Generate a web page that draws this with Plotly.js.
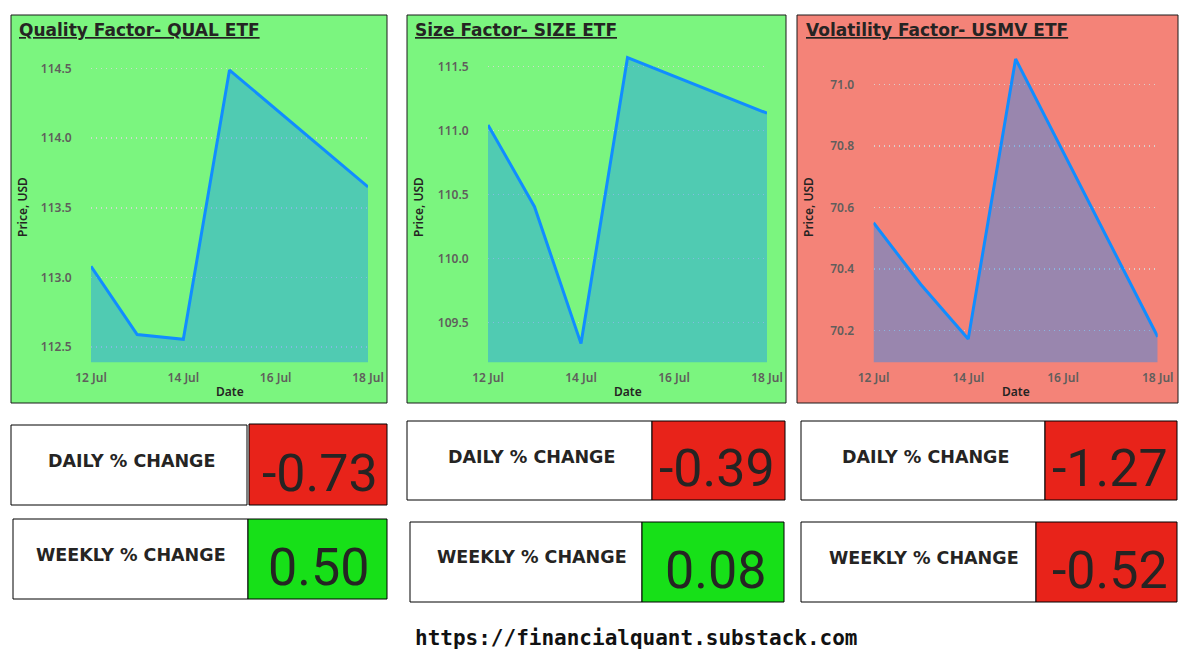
<!DOCTYPE html>
<html>
<head>
<meta charset="utf-8">
<script src="https://cdn.plot.ly/plotly-3.0.1.min.js"></script>
<style>
  html, body { margin: 0; padding: 0; background: #ffffff; }
  #chart { width: 1191px; height: 661px; }
</style>
</head>
<body>
<div id="chart"></div>
<script>
// ---------------- DATA ----------------
const dates = ['2022-07-12', '2022-07-13', '2022-07-14', '2022-07-15', '2022-07-18'];
const qualPrices = [113.08, 112.59, 112.555, 114.49, 113.65];
const sizePrices = [111.045, 110.406, 109.336, 111.57, 111.136];
const usmvPrices = [70.551, 70.35, 70.173, 71.084, 70.18];
const etfTitles = ['Quality Factor- QUAL ETF', 'Size Factor- SIZE ETF', 'Volatility Factor- USMV ETF'];
const dailyChange = [-0.73, -0.39, -1.27];
const weeklyChange = [0.50, 0.08, -0.52];
const dailyLabel = 'DAILY % CHANGE';
const weeklyLabel = 'WEEKLY % CHANGE';
const yAxisTitle = 'Price, USD';
const xAxisTitle = 'Date';
const footerUrl = 'https://financialquant.substack.com';

// ---------------- LAYOUT HELPERS ----------------
const W = 1191, H = 661;
const fx = p => p / W;
const fy = p => 1 - p / H;

const priceSeries = [qualPrices, sizePrices, usmvPrices];
const plotX = [[91, 368], [488, 767], [873.5, 1157.7]];
const plotTop = 50, plotBottom = 362.3;
const yRanges = [[112.39, 114.634], [109.19, 111.63], [70.097, 71.113]];
const yDticks = [0.5, 0.5, 0.2];
const panels = [[11, 387, 15, 403], [407, 786, 15, 403], [797, 1178, 15, 403]];
const titleX = [17, 413, 804];
const yTitleX = [23, 419, 809];
const dailyBoxes = [[[11, 247, 425, 505], [249, 387, 424, 505]],
                    [[407, 652, 421, 500], [652, 785, 421, 500]],
                    [[801, 1045, 421, 500], [1045, 1177, 421, 500]]];
const weeklyBoxes = [[[13, 248, 519, 599], [248, 387, 519, 599]],
                     [[410, 642, 522, 602], [642, 784, 522, 602]],
                     [[801, 1036, 522, 602], [1036, 1177, 522, 602]]];
const dailyLabelPos = [[131, 461], [531, 457], [925, 457]];
const weeklyLabelPos = [[131, 555], [532, 557], [924, 558]];
const dailyValPos = [[320, 473], [717, 468], [1110, 468]];
const weeklyValPos = [[318, 567], [715, 570], [1110, 570]];

const GREEN_BG = '#7bf57f';
const RED_BG = '#f48378';
const RED_BOX = '#e8231a';
const GREEN_BOX = '#17e018';
const LINE = '#118dff';
const FILL = 'rgba(17,141,255,0.4)';
const DARK = '#252423';
const GRAY = '#605e5c';
const HEAVY = 'DejaVu Sans, Verdana, sans-serif';

const traces = [];
const layout = {
  width: W, height: H,
  margin: {l: 0, r: 0, t: 0, b: 0},
  paper_bgcolor: '#ffffff',
  plot_bgcolor: 'rgba(0,0,0,0)',
  showlegend: false,
  shapes: [],
  annotations: []
};

function rect(b, fill, line) {
  layout.shapes.push({
    type: 'rect', xref: 'paper', yref: 'paper', layer: 'below',
    x0: fx(b[0]), x1: fx(b[1]), y0: fy(b[3]), y1: fy(b[2]),
    fillcolor: fill, line: {color: line, width: 1}
  });
}
function text(t, x, y, font, opts) {
  layout.annotations.push(Object.assign({
    text: t, x: fx(x), y: fy(y), xref: 'paper', yref: 'paper',
    showarrow: false, xanchor: 'center', yanchor: 'middle', font: font
  }, opts || {}));
}

for (let i = 0; i < 3; i++) {
  const sfx = i === 0 ? '' : String(i + 1);
  const positive = weeklyChange[i] >= 0;
  rect(panels[i], positive ? GREEN_BG : RED_BG, '#1a1a1a');

  traces.push({
    type: 'scatter', mode: 'lines',
    x: dates, y: priceSeries[i],
    xaxis: 'x' + sfx, yaxis: 'y' + sfx,
    line: {color: LINE, width: 3},
    fill: 'tozeroy', fillcolor: FILL,
    hoverinfo: 'x+y'
  });

  layout['xaxis' + sfx] = {
    domain: [fx(plotX[i][0]), fx(plotX[i][1])],
    anchor: 'y' + sfx,
    type: 'date',
    range: ['2022-07-12', '2022-07-18'],
    tick0: '2022-07-12', dtick: 2 * 86400000,
    tickformat: '%d %b',
    showgrid: false, zeroline: false, showline: false,
    ticks: 'outside', ticklen: 4, tickcolor: 'rgba(0,0,0,0)',
    tickfont: {family: 'Noto Sans, sans-serif', size: 12, color: GRAY, weight: 600},
    fixedrange: true
  };
  layout['yaxis' + sfx] = {
    domain: [fy(plotBottom), fy(plotTop)],
    anchor: 'x' + sfx,
    range: yRanges[i],
    dtick: yDticks[i],
    tickformat: '.1f',
    showgrid: true, gridcolor: 'rgba(215,215,215,0.9)', gridwidth: 1.5, griddash: '1px,4px',
    zeroline: false, showline: false,
    ticks: 'outside', ticklen: 16, tickcolor: 'rgba(0,0,0,0)',
    tickfont: {family: 'Noto Sans, sans-serif', size: 12, color: GRAY, weight: 600},
    fixedrange: true
  };

  // Titles
  text('<b><u>' + etfTitles[i] + '</u></b>', titleX[i], 30,
       {family: HEAVY, size: 17, color: DARK, weight: 'bold'},
       {xanchor: 'left'});
  text(yAxisTitle, yTitleX[i], 207,
       {family: 'Noto Sans, sans-serif', size: 12, color: DARK, weight: 600},
       {textangle: -90});
  text(xAxisTitle, (plotX[i][0] + plotX[i][1]) / 2, 391,
       {family: 'Noto Sans, sans-serif', size: 12, color: DARK, weight: 600});

  // Daily boxes
  const d = dailyBoxes[i];
  rect(d[0], '#ffffff', '#000000');
  rect(d[1], dailyChange[i] >= 0 ? GREEN_BOX : RED_BOX, '#000000');
  text('<b>' + dailyLabel + '</b>', dailyLabelPos[i][0], dailyLabelPos[i][1],
       {family: HEAVY, size: 17.5, color: DARK, weight: 'bold'});
  text(dailyChange[i].toFixed(2), dailyValPos[i][0], dailyValPos[i][1],
       {family: 'Roboto, sans-serif', size: 52, color: DARK});

  // Weekly boxes
  const w = weeklyBoxes[i];
  rect(w[0], '#ffffff', '#000000');
  rect(w[1], weeklyChange[i] >= 0 ? GREEN_BOX : RED_BOX, '#000000');
  text('<b>' + weeklyLabel + '</b>', weeklyLabelPos[i][0], weeklyLabelPos[i][1],
       {family: HEAVY, size: 17.5, color: DARK, weight: 'bold'});
  text(weeklyChange[i].toFixed(2), weeklyValPos[i][0], weeklyValPos[i][1],
       {family: 'Roboto, sans-serif', size: 52, color: DARK});
}

text('<b>' + footerUrl + '</b>', 636, 638, {family: 'DejaVu Sans Mono, monospace', size: 21, color: '#111111', weight: 'bold'});

Plotly.newPlot('chart', traces, layout, {displayModeBar: false, staticPlot: true});
</script>
</body>
</html>
